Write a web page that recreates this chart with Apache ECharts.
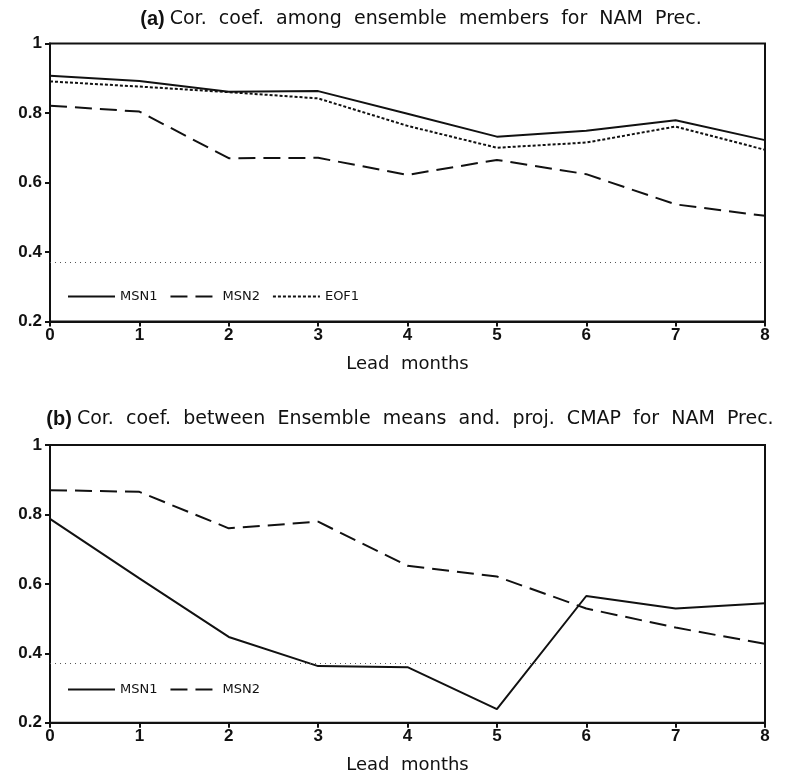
<!DOCTYPE html>
<html>
<head>
<meta charset="utf-8">
<style>
  html, body { margin: 0; padding: 0; background: #fff; }
  #chart { width: 785px; height: 776px; }
</style>
<script src="https://cdn.jsdelivr.net/npm/echarts@6/dist/echarts.min.js"></script>
</head>
<body>
<div id="chart"></div>
<script>
// Lead months on the x axis
const leads = ['0', '1', '2', '3', '4', '5', '6', '7', '8'];
const yTicks = [0.2, 0.4, 0.6, 0.8, 1];

// (a) correlation among ensemble members
const msn1A = [0.907, 0.892, 0.861, 0.863, 0.798, 0.732, 0.749, 0.779, 0.722];
const msn2A = [0.821, 0.804, 0.670, 0.671, 0.622, 0.665, 0.624, 0.537, 0.504];
const eof1A = [0.891, 0.876, 0.860, 0.842, 0.763, 0.700, 0.715, 0.761, 0.694];

// (b) correlation between ensemble means and projected CMAP
const msn1B = [0.787, 0.616, 0.447, 0.363, 0.360, 0.239, 0.565, 0.529, 0.544];
const msn2B = [0.870, 0.865, 0.760, 0.779, 0.652, 0.621, 0.529, 0.474, 0.427];

// significance level drawn as a dotted line
const refLevel = 0.374;

const INK = '#111';
const FONT = 'DejaVu Sans';
const NUM_FONT = 'Liberation Sans';

const styles = {
  MSN1: { type: 'solid', width: 2 },
  MSN2: { type: [17, 8], width: 2 },
  EOF1: { type: [3, 2], width: 2 }
};

function lineSeries(name, data, idx, withRef) {
  const s = {
    name: name,
    type: 'line',
    xAxisIndex: idx,
    yAxisIndex: idx,
    data: data,
    symbol: 'none',
    showSymbol: false,
    silent: true,
    animation: false,
    lineStyle: Object.assign({ color: INK }, styles[name]),
    itemStyle: { color: INK }
  };
  if (withRef) {
    s.markLine = {
      silent: true,
      symbol: 'none',
      label: { show: false },
      lineStyle: { color: '#555', type: [1, 4], width: 1 },
      data: [{ yAxis: refLevel }]
    };
  }
  return s;
}

const grids = [
  { left: 50, right: 20, top: 43.5, height: 278, show: true, borderColor: INK, borderWidth: 2 },
  { left: 50, right: 20, top: 445, height: 277.7, show: true, borderColor: INK, borderWidth: 2 }
];

function xAxis(idx) {
  return {
    type: 'category',
    gridIndex: idx,
    data: leads,
    boundaryGap: false,
    name: 'Lead  months',
    nameLocation: 'middle',
    nameGap: 34,
    nameTextStyle: { fontFamily: FONT, fontSize: 18, color: INK },
    axisLine: { lineStyle: { color: INK, width: 2 } },
    axisTick: { length: 5, lineStyle: { color: INK, width: 2 } },
    axisLabel: { margin: 5, fontFamily: NUM_FONT, fontWeight: 'bold', fontSize: 17, color: INK },
    splitLine: { show: false }
  };
}

function yAxis(idx) {
  return {
    type: 'value',
    gridIndex: idx,
    min: yTicks[0],
    max: yTicks[yTicks.length - 1],
    interval: 0.2,
    axisLine: { show: true, lineStyle: { color: INK, width: 2 } },
    axisTick: { show: true, length: 5, lineStyle: { color: INK, width: 2 } },
    axisLabel: { margin: 8, fontFamily: NUM_FONT, fontWeight: 'bold', fontSize: 17, color: INK },
    splitLine: { show: false }
  };
}

const titleRich = {
  tag: { fontFamily: NUM_FONT, fontWeight: 'bold', fontSize: 20, color: INK },
  txt: { fontFamily: FONT, fontWeight: 'normal', fontSize: 19, color: INK }
};

const legendBase = {
  orient: 'horizontal',
  itemWidth: 47,
  itemHeight: 10,
  itemGap: 12,
  itemStyle: { color: 'transparent', borderWidth: 0, opacity: 0 },
  textStyle: { fontFamily: FONT, fontSize: 13, color: INK },
  selectedMode: false
};

const chart = echarts.init(document.getElementById('chart'), null, { renderer: 'canvas' });
chart.setOption({
  backgroundColor: '#fff',
  animation: false,
  title: [
    {
      text: '{tag|(a)} {txt|Cor.  coef.  among  ensemble  members  for  NAM  Prec.}',
      left: 416, top: 4, textAlign: 'center',
      textStyle: { fontWeight: 'normal', rich: titleRich }
    },
    {
      text: '{tag|(b)} {txt|Cor.  coef.  between  Ensemble  means  and.  proj.  CMAP  for  NAM  Prec.}',
      left: 405, top: 404, textAlign: 'center',
      textStyle: { fontWeight: 'normal', rich: titleRich }
    }
  ],
  legend: [
    Object.assign({ left: 62, top: 285, data: ['MSN1', 'MSN2', 'EOF1'] }, legendBase),
    Object.assign({ left: 62, top: 678, data: ['MSN1', 'MSN2'] }, legendBase)
  ],
  grid: grids,
  xAxis: [xAxis(0), xAxis(1)],
  yAxis: [yAxis(0), yAxis(1)],
  series: [
    lineSeries('MSN1', msn1A, 0, true),
    lineSeries('MSN2', msn2A, 0, false),
    lineSeries('EOF1', eof1A, 0, false),
    lineSeries('MSN1', msn1B, 1, true),
    lineSeries('MSN2', msn2B, 1, false)
  ]
});
</script>
</body>
</html>
